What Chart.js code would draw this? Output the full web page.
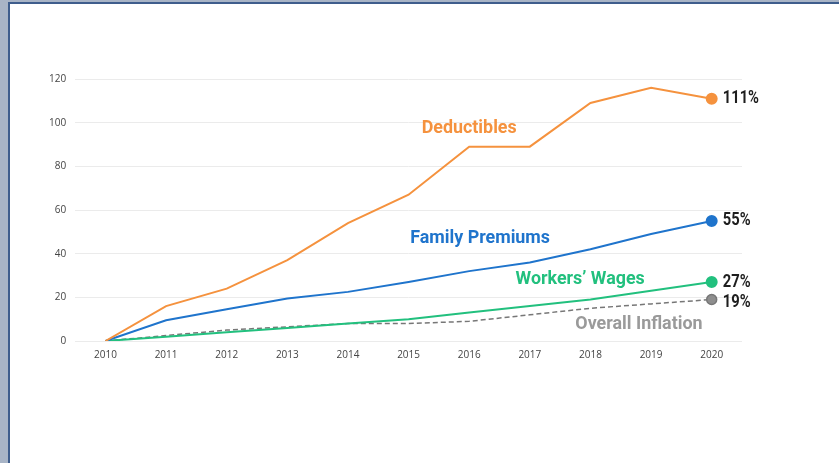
<!DOCTYPE html>
<html>
<head>
<meta charset="utf-8">
<script src="https://cdn.jsdelivr.net/npm/chart.js@4.4.0/dist/chart.umd.min.js"></script>
<style>
  html, body { margin: 0; padding: 0; background: #fff; }
  body { width: 839px; height: 463px; position: relative; overflow: hidden; }
  #strip { position: absolute; left: 0; top: 0; width: 8px; height: 463px; background: #a8b4c6; }
  #vline { position: absolute; left: 8px; top: 2px; width: 2px; height: 461px; background: #3e5d8c; }
  #topstrip { position: absolute; left: 8px; top: 0; width: 831px; height: 2px; background: #a8b4c6; }
  #hline { position: absolute; left: 8px; top: 2px; width: 831px; height: 2px; background: #3e5d8c; }
  #wrap { position: absolute; left: 0; top: 0; width: 839px; height: 463px; }
</style>
</head>
<body>
<div id="wrap"><canvas id="c" width="839" height="463"></canvas></div>
<div id="strip"></div><div id="topstrip"></div><div id="vline"></div><div id="hline"></div>
<script>
const years = ['2010','2011','2012','2013','2014','2015','2016','2017','2018','2019','2020'];
const deductibles = [0, 16, 24, 37, 54, 67, 89, 89, 109, 116, 111];
const familyPremiums = [0, 9.5, 14.5, 19.5, 22.5, 27, 32, 36, 42, 49, 55];
const workersWages = [0, 2, 4, 6, 8, 10, 13, 16, 19, 23, 27];
const overallInflation = [0, 2.5, 5, 6.5, 8, 8, 9, 12, 15, 17, 19];
const endLabels = ['111%', '55%', '27%', '19%'];
const seriesNames = ['Deductibles', 'Family Premiums', "Workers\u2019 Wages", 'Overall Inflation'];
const yTicks = [0, 20, 40, 60, 80, 100, 120];

const colors = ['#f5923e', '#1f74cc', '#22c07e', '#8e8e8e'];
const labelColors = ['#f5923e', '#1f74cc', '#22c07e', '#9a9a9a'];
// label anchors in data coordinates (category index, value)
const labelAnchors = [[6.0, 97.6], [6.18, 47.2], [7.83, 28.4], [8.8, 7.8]];

const lastPt = (ctx) => ctx.dataIndex === years.length - 1 ? 5 : 0;

const labelPlugin = {
  id: 'seriesLabels',
  afterDatasetsDraw(chart) {
    const {ctx, scales: {x, y}} = chart;
    ctx.save();
    ctx.textBaseline = 'middle';
    ctx.font = 'bold 19px Roboto';
    ctx.textAlign = 'center';
    seriesNames.forEach((n, i) => {
      const [ci, v] = labelAnchors[i];
      const px = x.getPixelForValue(0) + ci * (x.getPixelForValue(1) - x.getPixelForValue(0));
      ctx.fillStyle = labelColors[i];
      ctx.save();
      ctx.translate(px, y.getPixelForValue(v));
      ctx.scale(0.94, 1);
      ctx.fillText(n, 0, 0);
      ctx.restore();
    });
    ctx.textAlign = 'left';
    ctx.fillStyle = '#1e1e1e';
    ctx.font = 'bold 18px Roboto';
    chart.data.datasets.forEach((ds, i) => {
      const meta = chart.getDatasetMeta(i);
      const pt = meta.data[meta.data.length - 1];
      let py = pt.y;
      if (i === 3) py += 3;
      ctx.save();
      ctx.translate(pt.x + 11, py);
      ctx.scale(0.82, 1);
      ctx.fillText(endLabels[i], 0, 0);
      ctx.restore();
    });
    ctx.restore();
  }
};

new Chart(document.getElementById('c'), {
  type: 'line',
  data: {
    labels: years,
    datasets: [
      { label: seriesNames[0], data: deductibles, borderColor: colors[0], backgroundColor: colors[0], borderWidth: 2, pointRadius: lastPt, tension: 0 },
      { label: seriesNames[1], data: familyPremiums, borderColor: colors[1], backgroundColor: colors[1], borderWidth: 2, pointRadius: lastPt, tension: 0 },
      { label: seriesNames[2], data: workersWages, borderColor: colors[2], backgroundColor: colors[2], borderWidth: 2, pointRadius: lastPt, tension: 0 },
      { label: seriesNames[3], data: overallInflation, borderColor: '#777', backgroundColor: colors[3], borderWidth: 1.5, borderDash: [5, 3], pointRadius: lastPt, tension: 0 }
    ]
  },
  options: {
    responsive: false,
    animation: false,
    layout: { padding: { left: 40, right: 97, top: 79, bottom: 94 } },
    plugins: { legend: { display: false }, tooltip: { enabled: false } },
    scales: {
      x: {
        offset: true,
        grid: { display: false, drawTicks: false },
        border: { display: false },
        ticks: { color: '#444', font: { family: 'Open Sans', size: 10 }, padding: 8, maxRotation: 0 }
      },
      y: {
        min: 0, max: 120,
        afterBuildTicks(axis) { axis.ticks = yTicks.map(v => ({ value: v })); },
        grid: { color: '#ebebeb', drawTicks: false, lineWidth: 1 },
        border: { display: false },
        ticks: { color: '#444', font: { family: 'Open Sans', size: 10 }, padding: 9 }
      }
    }
  },
  plugins: [labelPlugin]
});
</script>
</body>
</html>
